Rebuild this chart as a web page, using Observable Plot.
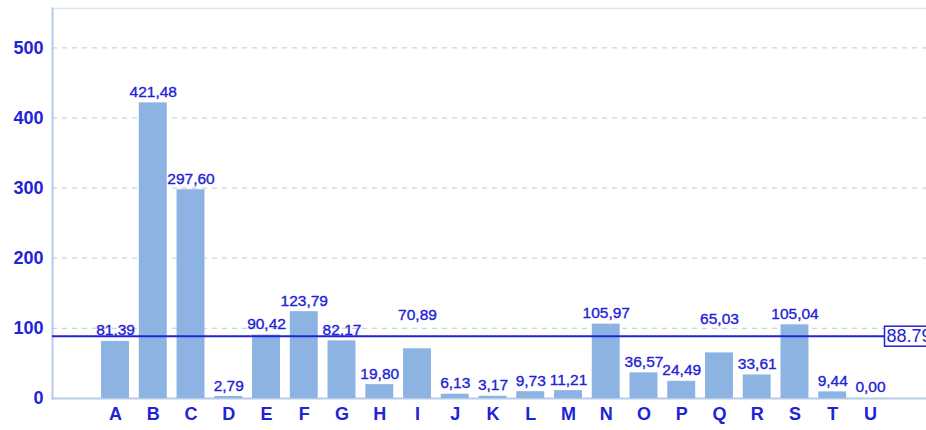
<!DOCTYPE html>
<html>
<head>
<meta charset="utf-8">
<script src="https://cdn.jsdelivr.net/npm/d3@7"></script>
<script src="https://cdn.jsdelivr.net/npm/@observablehq/plot@0.6"></script>
<style>
  html, body { margin: 0; padding: 0; background: #fff; overflow: hidden; }
</style>
</head>
<body>
<div id="chart"></div>
<script>
const categories = ["A","B","C","D","E","F","G","H","I","J","K","L","M","N","O","P","Q","R","S","T","U"];
const values = [81.39, 421.48, 297.60, 2.79, 90.42, 123.79, 82.17, 19.80, 70.89, 6.13, 3.17, 9.73, 11.21, 105.97, 36.57, 24.49, 65.03, 33.61, 105.04, 9.44, 0.00];
const yTicks = [0, 100, 200, 300, 400, 500];
const meanValue = 88.79;

const data = categories.map((c, i) => ({cat: c, value: values[i]}));
const fmt = v => v.toFixed(2).replace(".", ",");

const W = 926, H = 430;
const mTop = 8, mBottom = 32, mLeft = 52;
const yMax = 556;
const pxPerUnit = (H - mTop - mBottom) / yMax;
const labelGap = 11;               // px above bar (label centre)
const labelUnits = labelGap / pxPerUnit;
// labels whose centre would fall just below the mean line get lifted above it
const lifted = d => (d.value + labelUnits) < meanValue && (d.value + labelUnits) > meanValue - 15 / pxPerUnit;

const blue = "#2222d6";
const barColor = "#8db3e2";
const gridColor = "#c4d4ea";
const axisColor = "#b4cbec";

const chart = Plot.plot({
  width: W,
  height: H,
  marginTop: mTop,
  marginBottom: mBottom,
  marginLeft: mLeft,
  marginRight: 0,
  style: {fontFamily: "'Liberation Sans', Arial, sans-serif", background: "#fff"},
  x: {type: "band", domain: categories, range: [52, 933], paddingInner: 0.26, paddingOuter: 1.3, round: false, label: null},
  y: {domain: [0, yMax], label: null},
  marks: [
    Plot.ruleY(yTicks.filter(t => t > 0), {stroke: gridColor, strokeWidth: 1.2, strokeDasharray: "5,5"}),
    Plot.frame({anchor: "top", stroke: "#dde7f4", strokeWidth: 1.5}),
    Plot.frame({anchor: "left", stroke: axisColor, strokeWidth: 2}),
    Plot.frame({anchor: "bottom", stroke: axisColor, strokeWidth: 2}),
    Plot.barY(data, {x: "cat", y: "value", fill: barColor}),
    Plot.ruleY([meanValue], {stroke: blue, strokeWidth: 2, insetRight: 42}),
    Plot.text(data.filter(d => !lifted(d)), {
      x: "cat", y: "value", text: d => fmt(d.value), dy: -labelGap,
      fill: blue, stroke: blue, strokeWidth: 0.35, fontSize: 15.5, lineAnchor: "middle"
    }),
    Plot.text(data.filter(lifted), {
      x: "cat", y: "value", text: d => fmt(d.value), dy: -34,
      fill: blue, stroke: blue, strokeWidth: 0.35, fontSize: 15.5, lineAnchor: "middle"
    }),
    Plot.text([meanValue], {
      y: d => d, text: d => d.toFixed(2), frameAnchor: "right", textAnchor: "start",
      dx: -40, fill: blue, fontSize: 18, lineAnchor: "middle",
      render(index, scales, vals, dims, context, next) {
        const g = next(index, scales, vals, dims, context);
        // the group is translated by dx (-40), so this lands at the line's end
        const x0 = dims.width - dims.marginRight - 2;
        for (const i of index) {
          const yp = vals.y[i];
          const r = document.createElementNS("http://www.w3.org/2000/svg", "rect");
          r.setAttribute("x", x0);
          r.setAttribute("y", yp - 10);
          r.setAttribute("width", 60);
          r.setAttribute("height", 20);
          r.setAttribute("fill", "#fff");
          r.setAttribute("stroke", blue);
          r.setAttribute("stroke-width", 1.5);
          g.insertBefore(r, g.firstChild);
        }
        return g;
      }
    }),
    Plot.axisY(yTicks, {tickSize: 0, tickPadding: 9, fill: blue, fontSize: 18, fontWeight: "bold", label: null}),
    Plot.axisX({tickSize: 0, tickPadding: 9, fill: blue, fontSize: 18, fontWeight: "bold", label: null})
  ]
});
document.getElementById("chart").appendChild(chart);
</script>
</body>
</html>
